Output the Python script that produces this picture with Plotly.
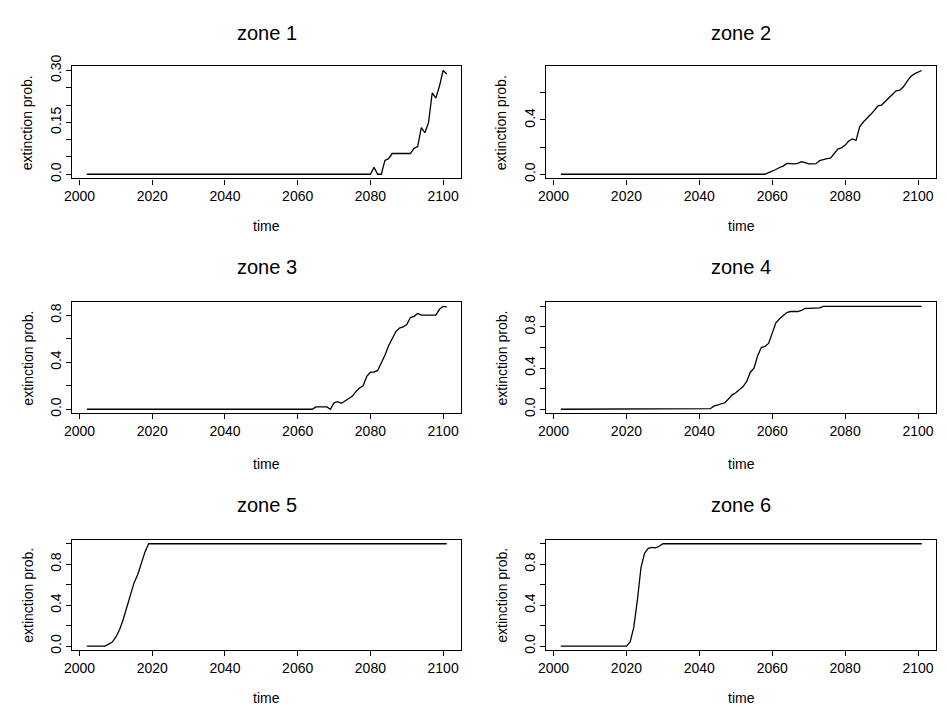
import plotly.graph_objects as go

# ---------------- data ----------------
years = list(range(2002, 2102))

zone1 = [
    0, 0, 0, 0, 0, 0, 0, 0, 0, 0,
    0, 0, 0, 0, 0, 0, 0, 0, 0, 0,
    0, 0, 0, 0, 0, 0, 0, 0, 0, 0,
    0, 0, 0, 0, 0, 0, 0, 0, 0, 0,
    0, 0, 0, 0, 0, 0, 0, 0, 0, 0,
    0, 0, 0, 0, 0, 0, 0, 0, 0, 0,
    0, 0, 0, 0, 0, 0, 0, 0, 0, 0,
    0, 0, 0, 0, 0, 0, 0, 0, 0, 0.02,
    0, 0, 0.04, 0.045, 0.06, 0.06, 0.06, 0.06, 0.06, 0.06,
    0.075, 0.08, 0.135, 0.12, 0.15, 0.235, 0.22, 0.255, 0.30, 0.29,
]

zone2 = [
    0, 0, 0, 0, 0, 0, 0, 0, 0, 0,
    0, 0, 0, 0, 0, 0, 0, 0, 0, 0,
    0, 0, 0, 0, 0, 0, 0, 0, 0, 0,
    0, 0, 0, 0, 0, 0, 0, 0, 0, 0,
    0, 0, 0, 0, 0, 0, 0, 0, 0, 0,
    0, 0, 0, 0, 0, 0, 0, 0.012, 0.022, 0.035,
    0.05, 0.06, 0.08, 0.078, 0.077, 0.08, 0.092, 0.085, 0.076, 0.076,
    0.078, 0.10, 0.11, 0.115, 0.118, 0.155, 0.185, 0.195, 0.215, 0.245,
    0.26, 0.25, 0.35, 0.385, 0.41, 0.44, 0.47, 0.505, 0.51, 0.535,
    0.565, 0.585, 0.615, 0.62, 0.645, 0.685, 0.72, 0.74, 0.75, 0.765,
]

zone3 = [
    0, 0, 0, 0, 0, 0, 0, 0, 0, 0,
    0, 0, 0, 0, 0, 0, 0, 0, 0, 0,
    0, 0, 0, 0, 0, 0, 0, 0, 0, 0,
    0, 0, 0, 0, 0, 0, 0, 0, 0, 0,
    0, 0, 0, 0, 0, 0, 0, 0, 0, 0,
    0, 0, 0, 0, 0, 0, 0, 0, 0, 0,
    0, 0, 0, 0.02, 0.02, 0.02, 0.02, 0.0, 0.055, 0.065,
    0.05, 0.07, 0.09, 0.11, 0.15, 0.18, 0.20, 0.28, 0.315, 0.315,
    0.33, 0.39, 0.46, 0.54, 0.60, 0.66, 0.69, 0.70, 0.72, 0.78,
    0.79, 0.815, 0.80, 0.80, 0.80, 0.80, 0.80, 0.85, 0.875, 0.87,
]

zone4 = [
    0, 0, 0, 0, 0, 0, 0, 0, 0, 0,
    0, 0, 0, 0, 0, 0, 0, 0, 0, 0,
    0, 0, 0, 0, 0, 0, 0, 0, 0, 0,
    0, 0, 0, 0, 0, 0, 0, 0, 0, 0,
    0, 0.005, 0.03, 0.04, 0.05, 0.063, 0.10, 0.14, 0.16, 0.19,
    0.22, 0.27, 0.36, 0.40, 0.52, 0.60, 0.61, 0.64, 0.75, 0.84,
    0.88, 0.91, 0.94, 0.95, 0.95, 0.95, 0.96, 0.98, 0.98, 0.98,
    0.98, 0.985, 1.0, 1.0, 1.0, 1.0, 1.0, 1.0, 1.0, 1.0,
    1.0, 1.0, 1.0, 1.0, 1.0, 1.0, 1.0, 1.0, 1.0, 1.0,
    1.0, 1.0, 1.0, 1.0, 1.0, 1.0, 1.0, 1.0, 1.0, 1.0,
]

zone5 = [
    0, 0, 0, 0, 0, 0, 0.02, 0.04, 0.09, 0.16,
    0.26, 0.38, 0.52, 0.62, 0.70, 0.82, 0.92, 1.0, 1.0, 1.0,
    1.0, 1.0, 1.0, 1.0, 1.0, 1.0, 1.0, 1.0, 1.0, 1.0,
    1.0, 1.0, 1.0, 1.0, 1.0, 1.0, 1.0, 1.0, 1.0, 1.0,
    1.0, 1.0, 1.0, 1.0, 1.0, 1.0, 1.0, 1.0, 1.0, 1.0,
    1.0, 1.0, 1.0, 1.0, 1.0, 1.0, 1.0, 1.0, 1.0, 1.0,
    1.0, 1.0, 1.0, 1.0, 1.0, 1.0, 1.0, 1.0, 1.0, 1.0,
    1.0, 1.0, 1.0, 1.0, 1.0, 1.0, 1.0, 1.0, 1.0, 1.0,
    1.0, 1.0, 1.0, 1.0, 1.0, 1.0, 1.0, 1.0, 1.0, 1.0,
    1.0, 1.0, 1.0, 1.0, 1.0, 1.0, 1.0, 1.0, 1.0, 1.0,
]

zone6 = [
    0, 0, 0, 0, 0, 0, 0, 0, 0, 0,
    0, 0, 0, 0, 0, 0, 0, 0, 0, 0.04,
    0.18, 0.45, 0.77, 0.91, 0.955, 0.965, 0.96, 0.975, 1.0, 1.0,
    1.0, 1.0, 1.0, 1.0, 1.0, 1.0, 1.0, 1.0, 1.0, 1.0,
    1.0, 1.0, 1.0, 1.0, 1.0, 1.0, 1.0, 1.0, 1.0, 1.0,
    1.0, 1.0, 1.0, 1.0, 1.0, 1.0, 1.0, 1.0, 1.0, 1.0,
    1.0, 1.0, 1.0, 1.0, 1.0, 1.0, 1.0, 1.0, 1.0, 1.0,
    1.0, 1.0, 1.0, 1.0, 1.0, 1.0, 1.0, 1.0, 1.0, 1.0,
    1.0, 1.0, 1.0, 1.0, 1.0, 1.0, 1.0, 1.0, 1.0, 1.0,
    1.0, 1.0, 1.0, 1.0, 1.0, 1.0, 1.0, 1.0, 1.0, 1.0,
]

zones = [zone1, zone2, zone3, zone4, zone5, zone6]
titles = ["zone 1", "zone 2", "zone 3", "zone 4", "zone 5", "zone 6"]

x_tickvals = [2000, 2020, 2040, 2060, 2080, 2100]
x_ticktext = ["2000", "2020", "2040", "2060", "2080", "2100"]

y_tickvals = [
    [0.0, 0.05, 0.10, 0.15, 0.20, 0.25, 0.30],
    [0.0, 0.2, 0.4, 0.6],
    [0.0, 0.2, 0.4, 0.6, 0.8],
    [0.0, 0.2, 0.4, 0.6, 0.8, 1.0],
    [0.0, 0.2, 0.4, 0.6, 0.8, 1.0],
    [0.0, 0.2, 0.4, 0.6, 0.8, 1.0],
]
y_ticktext = [
    ["0.0", "", "", "0.15", "", "", "0.30"],
    ["0.0", "", "0.4", ""],
    ["0.0", "", "0.4", "", "0.8"],
    ["0.0", "", "0.4", "", "0.8", ""],
    ["0.0", "", "0.4", "", "0.8", ""],
    ["0.0", "", "0.4", "", "0.8", ""],
]

x_label = "time"
y_label = "extinction prob."

# ---------------- layout geometry (pixels) ----------------
W, H = 947, 711
col_px = [(65, 457), (543, 936)]
row_px = [(55.5, 170), (296.5, 410), (539, 652)]
title_px = [21, 261, 504]
xlab_px = [219, 462, 701]
ylab_px = [20, 498]

FONT = "Liberation Sans, Arial, Helvetica, sans-serif"


def r_range(vals):
    lo, hi = min(vals), max(vals)
    d = hi - lo
    return [lo - 0.04 * d, hi + 0.04 * d]


fig = go.Figure()
annotations = []
layout_axes = {}

for i, (z, t) in enumerate(zip(zones, titles)):
    r, c = divmod(i, 2)
    n = i + 1
    xa = "x" if n == 1 else f"x{n}"
    ya = "y" if n == 1 else f"y{n}"
    fig.add_trace(go.Scatter(
        x=years, y=z, mode="lines",
        line=dict(color="black", width=1.3),
        xaxis=xa, yaxis=ya, showlegend=False, hoverinfo="skip",
    ))
    x0, x1 = col_px[c]
    y0, y1 = row_px[r]
    common = dict(
        showline=True, linecolor="black", linewidth=1.2, mirror=True,
        ticks="outside", ticklen=5, tickwidth=1, tickcolor="black",
        showgrid=False, zeroline=False,
        tickfont=dict(family=FONT, size=14, color="black"),
    )
    layout_axes["xaxis" if n == 1 else f"xaxis{n}"] = dict(
        domain=[x0 / W, x1 / W],
        anchor=ya,
        range=r_range(years),
        tickvals=x_tickvals, ticktext=x_ticktext,
        **common,
    )
    layout_axes["yaxis" if n == 1 else f"yaxis{n}"] = dict(
        domain=[1 - y1 / H, 1 - y0 / H],
        anchor=xa,
        range=r_range(z),
        tickvals=y_tickvals[i], ticktext=y_ticktext[i],
        tickangle=-90,
        **common,
    )
    cx = (x0 + x1) / 2 / W
    annotations.append(dict(
        text=t, x=cx, y=1 - title_px[r] / H, xref="paper", yref="paper",
        showarrow=False, xanchor="center", yanchor="middle",
        font=dict(family=FONT, size=20, color="black"),
    ))
    annotations.append(dict(
        text=x_label, x=cx, y=1 - xlab_px[r] / H, xref="paper", yref="paper",
        showarrow=False, xanchor="center", yanchor="middle",
        font=dict(family=FONT, size=14, color="black"),
    ))
    annotations.append(dict(
        text=y_label, x=ylab_px[c] / W, y=1 - (y0 + y1) / 2 / H,
        xref="paper", yref="paper", textangle=-90,
        showarrow=False, xanchor="center", yanchor="middle",
        font=dict(family=FONT, size=14, color="black"),
    ))

fig.update_layout(
    width=W, height=H,
    margin=dict(l=0, r=0, t=0, b=0),
    paper_bgcolor="white", plot_bgcolor="white",
    annotations=annotations,
    **layout_axes,
)

fig.write_html(
    "out.html",
    config={"displayModeBar": False},
    post_script="document.body.style.margin='0';",
)
